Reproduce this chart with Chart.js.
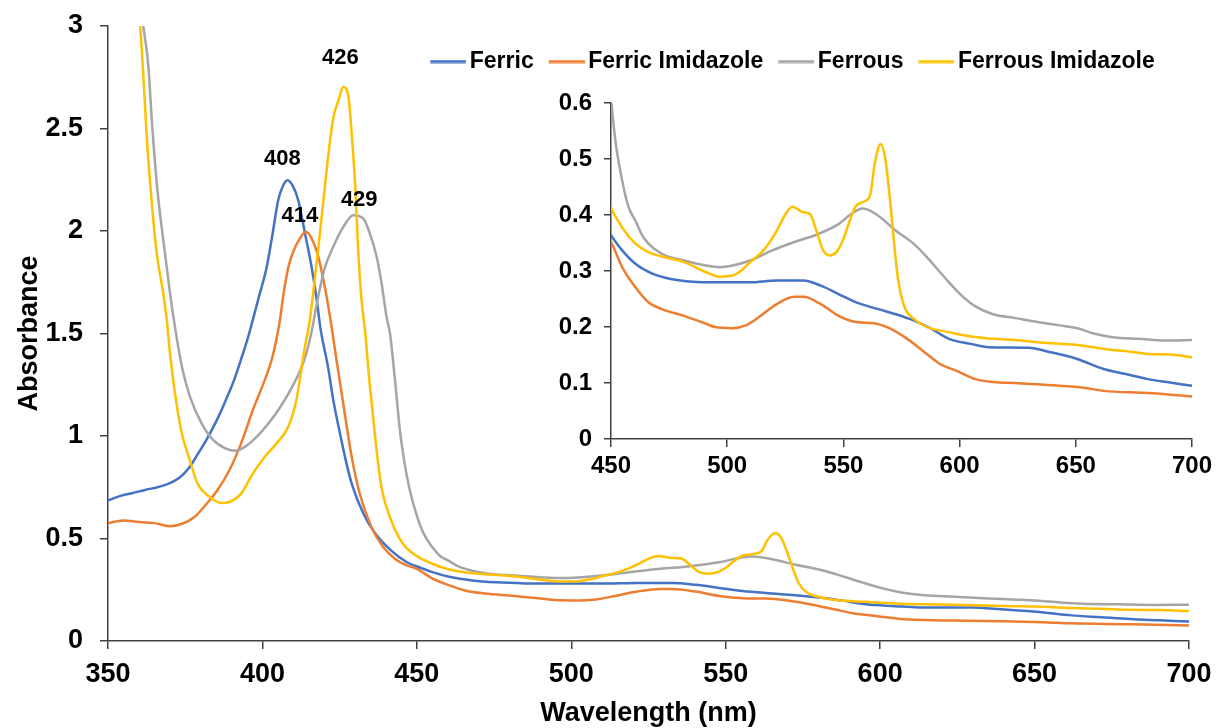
<!DOCTYPE html>
<html lang="en">
<head>
  <meta charset="UTF-8" />
  <title>Absorbance spectra</title>
  <script src="https://cdn.jsdelivr.net/npm/chart.js"></script>
  <style>
    body { margin: 0; background: #fff; }
    .wrap { position: relative; width: 1221px; height: 728px; }
    #mainChart { position: absolute; left: 0; top: 0; }
    #insetChart { position: absolute; left: 360px; top: 0; }
  </style>
</head>
<body>
  <div class="wrap">
    <canvas id="mainChart" width="1221" height="728"></canvas>
    <canvas id="insetChart" width="861" height="490"></canvas>
  </div>

  <script>
    // wavelength (nm) / absorbance pairs
    const ferricNm = [350,354,358,362,366,370,373,376,379,382,385,388,391,393,395.5,398.7,401.4,403.3,405.1,406.5,
      408.1,410,411.6,413.8,415.9,417.6,418.8,421.2,423,425.1,427,428.9,432.7,436.6,441.7,446.8,450,454.8,460.5,468,
      475.7,485.2,494.7,509.9,521.3,532.7,540.3,547.9,555.5,565,572.6,580.2,587.8,595.4,604.9,612.5,629.6,639.2,650.6,662,
      671.5,681,690.5,700];
    const ferricAbs = [0.686,0.708,0.722,0.737,0.75,0.77,0.795,0.84,0.91,0.985,1.07,1.17,1.28,1.37,1.49,1.67,1.825,1.987,2.15,2.215,
      2.247,2.215,2.15,1.987,1.825,1.662,1.524,1.34,1.17,1.013,0.88,0.768,0.621,0.523,0.441,0.384,0.364,0.337,0.313,0.295,
      0.286,0.281,0.28,0.28,0.283,0.283,0.274,0.259,0.244,0.232,0.223,0.212,0.197,0.179,0.17,0.164,0.163,0.155,0.143,0.125,
      0.116,0.107,0.101,0.095];

    const ferricImNm = [350,355,360,365,370,374,378,381.5,385.4,389.3,393.1,396.9,400.8,403.3,405.5,407,408.5,410,412,414.1,
      415.9,418.1,420.2,421.9,423.8,426.3,428.9,431.5,435.3,439.1,443,446.5,450,454.8,460.5,466.2,471.9,481.4,490.9,494.7,
      502.3,508,513.7,521.3,528.9,532.7,540.3,547.9,555.5,563.1,568.8,576.4,585.9,591.6,599.2,606.8,614.4,624,633.5,643,
      652.5,662,681,700];
    const ferricImAbs = [0.575,0.588,0.58,0.575,0.56,0.572,0.605,0.662,0.735,0.833,0.964,1.127,1.275,1.389,1.55,1.71,1.83,1.9,1.96,1.996,
      1.964,1.874,1.727,1.58,1.389,1.144,0.899,0.719,0.556,0.458,0.4,0.37,0.352,0.307,0.271,0.244,0.232,0.22,0.206,0.2,
      0.198,0.203,0.218,0.241,0.254,0.254,0.241,0.22,0.209,0.207,0.2,0.182,0.152,0.134,0.121,0.107,0.102,0.1,0.098,0.095,
      0.092,0.086,0.082,0.076];

    const ferrousNm = [350,355,358,361.4,363.1,364.1,365.8,367.9,370.1,371.7,373.9,376.5,380.3,384.1,388,391.2,394.4,398.2,402,405.9,
      409.7,413.6,415.8,417.8,420.2,422.9,426.2,429.4,432.7,434.8,437,438.6,440.2,441.3,443,444.5,446,447.5,450,452,
      454.8,457.5,460.5,464,471.9,481.4,490.9,496.6,502.3,509.9,519.4,528.9,538.4,547.9,553.6,558.4,565,572.6,580.2,585.9,
      593.5,600.2,606.8,614.4,624,633.5,643,650.6,658.2,665.8,677.2,688.6,700];
    const ferrousAbs = [4.4,3.8,3.35,3.0,2.8,2.56,2.23,1.955,1.695,1.53,1.34,1.193,1.062,0.98,0.94,0.928,0.948,0.997,1.062,1.144,
      1.242,1.373,1.5,1.66,1.82,1.922,2.02,2.077,2.06,1.987,1.873,1.743,1.58,1.5,1.26,1.03,0.87,0.75,0.61,0.53,
      0.462,0.415,0.39,0.36,0.331,0.319,0.31,0.307,0.31,0.319,0.337,0.352,0.365,0.384,0.403,0.412,0.399,0.372,0.349,0.325,
      0.289,0.259,0.237,0.223,0.216,0.209,0.203,0.198,0.188,0.182,0.179,0.176,0.177];

    const ferrousImNm = [350,355,358,360.4,361.4,362.5,364.1,365.8,367.9,369,370.1,372,373.9,376.5,379,382.9,386.7,389.3,393.1,396.9,
      400.8,404.6,408.4,411,413.6,415.2,416.6,418.6,420.2,421.9,423,424.6,426.2,427.8,428.9,430,431,432.1,433.2,434.7,
      436.6,438.5,441.7,445.5,450,454.8,460.5,466,471.9,481.4,490.9,496.6,502.3,506.1,509.9,515.6,521.3,525.1,528,532.7,
      535.6,538.4,541.3,544.1,547,549.8,552.7,555.5,559.3,561.6,563.5,566,567.9,569.8,571.7,573.6,576.4,580.2,585.9,595.4,
      604.9,614.4,624,633.5,643,652.5,662,671.5,681,690.5,700];
    const ferrousImAbs = [4.6,3.8,3.35,3.0,2.77,2.47,2.15,1.89,1.695,1.57,1.4,1.176,1.013,0.882,0.768,0.703,0.673,0.678,0.719,0.817,
      0.899,0.964,1.046,1.176,1.422,1.55,1.72,1.987,2.215,2.442,2.556,2.637,2.702,2.661,2.474,2.23,1.906,1.662,1.516,1.258,
      0.98,0.752,0.588,0.474,0.414,0.378,0.349,0.334,0.326,0.316,0.298,0.29,0.292,0.301,0.316,0.337,0.372,0.402,0.415,0.405,
      0.402,0.372,0.337,0.328,0.334,0.355,0.39,0.417,0.425,0.438,0.492,0.527,0.504,0.438,0.355,0.283,0.235,0.215,0.2,0.191,
      0.183,0.179,0.177,0.173,0.17,0.167,0.161,0.157,0.152,0.151,0.146];

    const seriesNames = ['Ferric', 'Ferric Imidazole', 'Ferrous', 'Ferrous Imidazole'];
    const seriesNm = [ferricNm, ferricImNm, ferrousNm, ferrousImNm];
    const seriesAbs = [ferricAbs, ferricImAbs, ferrousAbs, ferrousImAbs];
    const seriesColors = ['#4472C4', '#ED7D31', '#A5A5A5', '#FFC000'];

    // Soret peak labels (nm) and which series they belong to
    const peakNm = [408, 414, 426, 429];
    const peakSeries = [0, 1, 3, 2];

    const AXIS = '#404040';
    const FONT = '"Liberation Sans", Arial, sans-serif';
    Chart.defaults.font.family = FONT;
    Chart.defaults.color = '#000';

    // small line swatch for the legend; drawn a bit left of centre so the
    // label text sits close to it, like the Excel legend
    function legendLine(color) {
      const c = document.createElement('canvas');
      c.width = 44;
      c.height = 4;
      const g = c.getContext('2d');
      g.fillStyle = color;
      g.fillRect(8, 0.5, 36, 3);
      return c;
    }

    function makeDatasets(withSwatch) {
      return seriesNames.map((name, i) => ({
        label: name,
        data: seriesNm[i].map((nm, j) => ({ x: nm, y: seriesAbs[i][j] })),
        borderColor: seriesColors[i],
        backgroundColor: seriesColors[i],
        borderWidth: 2.5,
        pointRadius: 0,
        pointStyle: withSwatch ? legendLine(seriesColors[i]) : 'circle',
        cubicInterpolationMode: 'monotone',
        order: seriesNames.length - 1 - i   // last series on top, like the original
      }));
    }

    function axis(min, max, step, fontSize, pad, tickLen, fit) {
      return {
        type: 'linear',
        min: min,
        max: max,
        ticks: {
          stepSize: step,
          padding: pad,
          maxRotation: 0,
          font: { size: fontSize, weight: 'bold' },
          callback: v => String(+v.toFixed(2))
        },
        grid: { drawOnChartArea: false, tickLength: tickLen, color: AXIS, lineWidth: 1.5 },
        border: { color: AXIS, width: 1.5 },
        afterFit: fit
      };
    }

    const peakLabelPlugin = {
      id: 'peakLabels',
      afterDatasetsDraw(chart, args, opts) {
        const { ctx, scales: { x, y } } = chart;
        ctx.save();
        ctx.font = 'bold 22px ' + FONT;
        ctx.fillStyle = '#000';
        ctx.textAlign = 'center';
        ctx.textBaseline = 'middle';
        peakNm.forEach((p, i) => {
          const nm = seriesNm[peakSeries[i]];
          const abs = seriesAbs[peakSeries[i]];
          let k = 0;
          nm.forEach((v, j) => { if (Math.abs(v - p) < Math.abs(nm[k] - p)) k = j; });
          const off = opts.offsets[i];
          ctx.fillText(String(p), x.getPixelForValue(nm[k]) + off[0], y.getPixelForValue(abs[k]) + off[1]);
        });
        ctx.restore();
      }
    };

    // main spectrum
    const mainX = axis(350, 700, 50, 27, 9, 8, s => { s.height = 87; });
    mainX.title = { display: true, text: 'Wavelength (nm)', font: { size: 27, weight: 'bold' }, padding: { top: 0, bottom: -2 } };
    // the big tick padding would otherwise push the plot top down
    const mainY = axis(0, 3, 0.5, 27, 17, 8, s => { s.width = 108; s.paddingTop = 0; });
    mainY.title = { display: true, text: 'Absorbance', font: { size: 27, weight: 'bold' }, padding: { top: 13, bottom: 0 } };

    new Chart(document.getElementById('mainChart'), {
      type: 'line',
      data: { datasets: makeDatasets(false) },
      options: {
        responsive: false,
        animation: false,
        events: [],
        layout: { padding: { left: 0, right: 32, top: 26, bottom: 0 } },
        scales: { x: mainX, y: mainY },
        plugins: {
          legend: { display: false },
          tooltip: { enabled: false },
          peakLabels: { offsets: [[-5, -21], [-6, -16], [-3, -29], [6, -15]] }
        }
      },
      plugins: [peakLabelPlugin]
    });

    // inset: 450-700 nm zoom, carries the legend
    new Chart(document.getElementById('insetChart'), {
      type: 'line',
      data: { datasets: makeDatasets(true) },
      options: {
        responsive: false,
        animation: false,
        events: [],
        layout: { padding: { left: 33, right: 29, top: 35, bottom: 0 } },
        scales: {
          x: axis(450, 700, 50, 24, 5, 8, s => { s.height = 51; }),
          y: axis(0, 0.6, 0.1, 24, 12, 7, s => { s.width = 218; })
        },
        plugins: {
          legend: {
            position: 'top',
            labels: {
              usePointStyle: true,
              pointStyleWidth: 28,
              padding: 15,
              color: '#000',
              font: { size: 23, weight: 'bold' },
              sort: (a, b) => a.datasetIndex - b.datasetIndex
            }
          },
          // empty title used only as a gap under the legend
          title: { display: true, text: '', font: { size: 1 }, padding: { top: 0, bottom: 19 }, weight: 500 },
          tooltip: { enabled: false }
        }
      }
    });
  </script>
</body>
</html>
